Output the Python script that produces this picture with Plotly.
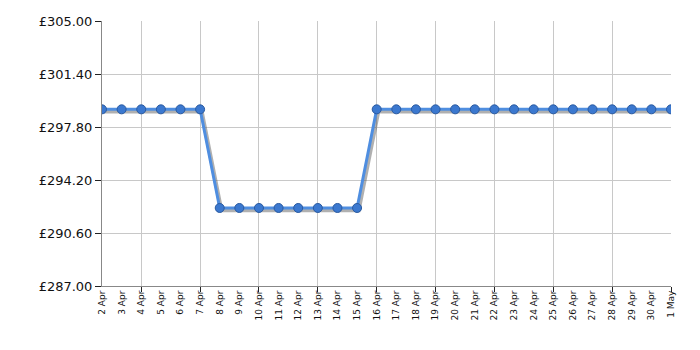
import plotly.graph_objects as go

dates = ["2 Apr", "3 Apr", "4 Apr", "5 Apr", "6 Apr", "7 Apr", "8 Apr", "9 Apr", "10 Apr",
         "11 Apr", "12 Apr", "13 Apr", "14 Apr", "15 Apr", "16 Apr", "17 Apr", "18 Apr",
         "19 Apr", "20 Apr", "21 Apr", "22 Apr", "23 Apr", "24 Apr", "25 Apr", "26 Apr",
         "27 Apr", "28 Apr", "29 Apr", "30 Apr", "1 May"]
prices = [299.0] * 6 + [292.3] * 8 + [299.0] * 16
y_ticks = [287.0, 290.6, 294.2, 297.8, 301.4, 305.0]

x = list(range(len(dates)))

fig = go.Figure()
# shadow
fig.add_trace(go.Scatter(
    x=[v + 0.08 for v in x], y=[p - 0.15 for p in prices], mode="lines",
    line=dict(color="rgba(80,80,80,0.45)", width=4), hoverinfo="skip", showlegend=False))
fig.add_trace(go.Scatter(
    x=x, y=prices, mode="lines+markers",
    line=dict(color="#4f8ee0", width=3),
    marker=dict(size=9, color="#3b78cf", line=dict(color="#2a5aa0", width=1)),
    showlegend=False))

fig.update_layout(
    width=700, height=350,
    margin=dict(l=102, r=29, t=21, b=64),
    paper_bgcolor="white", plot_bgcolor="white",
    font=dict(family="DejaVu Sans, Verdana, sans-serif", color="#111"),
)
fig.update_xaxes(
    range=[0, len(dates) - 1],
    tickmode="array", tickvals=x, ticktext=dates, tickangle=-90,
    tickfont=dict(size=9), ticks="", showgrid=False,
    showline=True, linecolor="#888", linewidth=1, zeroline=False,
    minor=dict(tickmode="linear", tick0=2, dtick=3, showgrid=True,
               gridcolor="#c8c8c8", gridwidth=1, ticks="outside",
               ticklen=5, tickcolor="#222"),
)
fig.update_yaxes(
    range=[287, 305], tickmode="array", tickvals=y_ticks,
    ticktext=["£%.2f" % v for v in y_ticks], tickfont=dict(size=13),
    ticks="outside", ticklen=6, tickcolor="#222",
    showgrid=True, gridcolor="#c8c8c8", gridwidth=1,
    showline=True, linecolor="#888", linewidth=1, zeroline=False,
)

fig.write_html("out.html")
